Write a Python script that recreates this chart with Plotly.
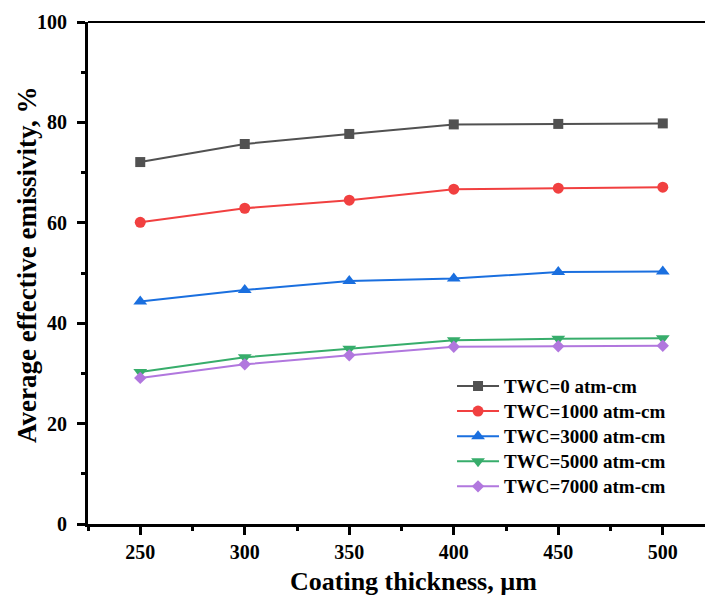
import plotly.graph_objects as go

# Coating thickness (µm)
thickness = [250, 300, 350, 400, 450, 500]

# Average effective emissivity (%) for each total water content
twc_labels = ["TWC=0 atm-cm", "TWC=1000 atm-cm", "TWC=3000 atm-cm",
              "TWC=5000 atm-cm", "TWC=7000 atm-cm"]
emis_0 = [72.1, 75.7, 77.7, 79.6, 79.7, 79.8]
emis_1000 = [60.1, 62.9, 64.5, 66.7, 66.9, 67.1]
emis_3000 = [44.3, 46.6, 48.4, 48.9, 50.2, 50.3]
emis_5000 = [30.3, 33.2, 34.9, 36.6, 36.9, 37.0]
emis_7000 = [29.1, 31.8, 33.6, 35.3, 35.4, 35.5]

series = [emis_0, emis_1000, emis_3000, emis_5000, emis_7000]
colors = ["#515151", "#F14040", "#1A6FDF", "#37AD6B", "#B177DE"]
symbols = ["square", "circle", "triangle-up", "triangle-down", "diamond"]
sizes = [10, 11, 12, 12, 9.5]

FONT = "Liberation Serif, Times New Roman, serif"

fig = go.Figure()
for name, ys, col, sym, sz in zip(twc_labels, series, colors, symbols, sizes):
    fig.add_trace(go.Scatter(
        x=thickness, y=ys, mode="lines+markers",
        name='<span style="font-size:19px">' + name + "</span>",
        line=dict(color=col, width=2),
        marker=dict(symbol=sym, size=sz, color=col, line=dict(width=0)),
    ))

axis_common = dict(
    showline=True, linecolor="black", linewidth=3,
    ticks="outside", ticklen=8, tickwidth=3, tickcolor="black",
    showgrid=False, zeroline=False,
    tickfont=dict(family=FONT, size=20, color="black", weight="bold"),
)

fig.update_xaxes(
    range=[225, 520.2], tickmode="linear", tick0=250, dtick=50,
    minor=dict(ticks="outside", ticklen=4, tickwidth=3, tickcolor="black",
               dtick=25, tick0=225, showgrid=False),
    **axis_common,
)
fig.update_yaxes(
    range=[0, 100], tickmode="linear", tick0=0, dtick=20,
    minor=dict(ticks="outside", ticklen=4, tickwidth=3, tickcolor="black",
               dtick=10, tick0=0, showgrid=False),
    ticklabelstandoff=6,
    **axis_common,
)

# axis titles
fig.add_annotation(text="Coating thickness, µm", xref="paper", yref="paper",
                   x=0.527, y=-0.1155, xanchor="center", yanchor="middle",
                   showarrow=False,
                   font=dict(family=FONT, size=26, color="black", weight="bold"))
fig.add_annotation(text="Average effective emissivity, %", xref="paper", yref="paper",
                   x=-0.0989, y=0.516, xanchor="center", yanchor="middle",
                   textangle=-90, showarrow=False,
                   font=dict(family=FONT, size=27, color="black", weight="bold"))

# thin top frame line
fig.add_shape(type="line", xref="paper", yref="paper", x0=0, x1=1, y0=1, y1=1,
              line=dict(color="black", width=2))

fig.update_layout(
    width=705, height=596,
    margin=dict(l=88, r=0, t=22, b=72),
    plot_bgcolor="white", paper_bgcolor="white",
    legend=dict(
        x=0.59, y=0.31, xanchor="left", yanchor="top",
        bgcolor="rgba(0,0,0,0)", borderwidth=0,
        font=dict(family=FONT, size=17, color="black", weight="bold"),
        itemwidth=42, tracegroupgap=0,
    ),
)

fig.write_html("out.html")
